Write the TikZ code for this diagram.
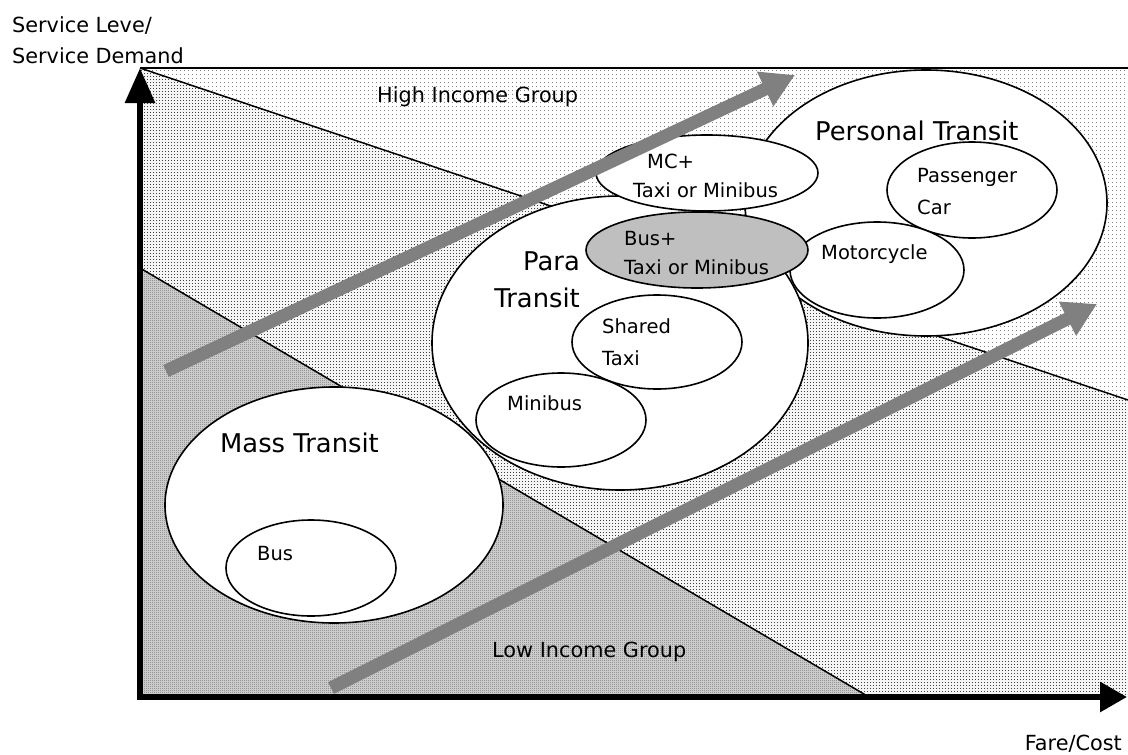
\documentclass[tikz,border=0pt]{standalone}
\usepackage{fontspec}
\setmainfont{DejaVu Sans}
\usetikzlibrary{arrows.meta,shapes.geometric,patterns.meta}

\tikzdeclarepattern{name=sparsedots, type=uncolored,
  bounding box={(0pt,0pt) and (4pt,4pt)}, tile size={(4pt,4pt)},
  code={\pgfpathrectangle{\pgfpointorigin}{\pgfpoint{1pt}{1pt}}\pgfusepath{fill}}}
\tikzdeclarepattern{name=middots, type=uncolored,
  bounding box={(0pt,0pt) and (3pt,3pt)}, tile size={(3pt,3pt)},
  code={\pgfpathrectangle{\pgfpointorigin}{\pgfpoint{1.2pt}{1.2pt}}\pgfusepath{fill}}}
\tikzdeclarepattern{name=densedots, type=uncolored,
  bounding box={(0pt,0pt) and (2pt,2pt)}, tile size={(2pt,2pt)},
  code={\pgfpathrectangle{\pgfpointorigin}{\pgfpoint{1pt}{1pt}}\pgfusepath{fill}}}

\begin{document}
\begin{tikzpicture}[x=1pt, y=-1pt]
	\tikzstyle{bubble} = [draw, ellipse, line width=1.6pt, fill=white, inner sep=0pt]
	\tikzstyle{smalltxt} = [inner sep=0pt, anchor=base west, align=left, font=\fontsize{19.5}{29}\selectfont]
	\tikzstyle{midtxt} = [inner sep=0pt, anchor=base west, align=left, font=\fontsize{20.8}{31}\selectfont]
	\tikzstyle{bigtxt} = [inner sep=0pt, anchor=base west, align=left, font=\fontsize{25.8}{37}\selectfont]
	\tikzstyle{trend} = [draw=gray, line width=13pt, -{Triangle[length=33pt, width=36pt]}]
	\tikzstyle{axis} = [draw=black, line width=6pt]
	\tikzstyle{border} = [draw=black, line width=1.5pt]

	\useasboundingbox (0,0) rectangle (1128,755);

	% plot area
	\coordinate (o) at (140,697);
	\coordinate (tl) at (140,68);
	\coordinate (tr) at (1128,68);
	\coordinate (rh) at (1128,400);
	\coordinate (br) at (1128,697);
	\coordinate (lb) at (869,697);
	\coordinate (ll) at (140,268);
	\coordinate (xtip) at (1127,697);

	% income bands
	\fill[white, postaction={pattern=sparsedots, pattern color=gray}] (tl) -- (tr) -- (rh) -- cycle;
	\fill[gray!8, postaction={pattern=middots, pattern color=black!75}] (tl) -- (rh) -- (br) -- (lb) -- (ll) -- cycle;
	\fill[gray!40, postaction={pattern=densedots, pattern color=black!70}] (ll) -- (lb) -- (o) -- cycle;
	\draw[border] (tl) -- (tr);
	\draw[border] (tl) -- (rh);
	\draw[border] (ll) -- (lb);

	% transit groups
	\path
	node[bubble, minimum width=362, minimum height=266] (personal) at (926,203) {}
	node[bubble, minimum width=170, minimum height=96] (car) at (972,190) {}
	node[bubble, minimum width=174, minimum height=96] (moto) at (877,270) {}
	node[bubble, minimum width=376, minimum height=294] (para) at (620,343) {}
	node[bubble, minimum width=170, minimum height=94] (shared) at (657,342) {}
	node[bubble, minimum width=170, minimum height=94] (mini) at (561,420) {}
	node[bubble, minimum width=222, minimum height=76] (mcplus) at (707,173) {}
	node[bubble, minimum width=222, minimum height=76, fill=gray!50] (busplus) at (697,250) {}
	node[bubble, minimum width=338, minimum height=236] (mass) at (334,505) {}
	node[bubble, minimum width=170, minimum height=96] (bus) at (311,568) {}
	;

	% trends
	\coordinate (hi0) at (166,371);
	\coordinate (hi1) at (795,75);
	\coordinate (lo0) at (331,688);
	\coordinate (lo1) at (1097,304);
	\draw[trend] (hi0) -- (hi1);
	\draw[trend] (lo0) -- (lo1);

	% axes
	\draw[axis, -{Triangle[length=35pt, width=29pt]}] ([yshift=3pt]o) -- (tl);
	\draw[axis, -{Triangle[length=27pt, width=29pt]}] ([xshift=-3pt]o) -- (xtip);

	% texts (base = last line)
	\path
	node[midtxt] (ylab) at (12,63) {Service Leve/\\Service Demand}
	node[midtxt, anchor=base east] (xlab) at (1122,750) {Fare/Cost}
	node[midtxt] (high) at (377,102) {High Income Group}
	node[midtxt] (low) at (492,657) {Low Income Group}
	node[bigtxt] (personaltxt) at (815,140) {Personal Transit}
	node[smalltxt, font=\fontsize{19.5}{32}\selectfont] (cartxt) at (917,214) {Passenger\\Car}
	node[smalltxt] (mototxt) at (821,259) {Motorcycle}
	node[smalltxt] (mcplustxt) at (633,197) {\hspace*{14pt}MC+\\Taxi or Minibus}
	node[smalltxt] (busplustxt) at (624,274) {Bus+\\Taxi or Minibus}
	node[bigtxt, align=right, anchor=base east] (paratxt) at (580,307) {Para\\Transit}
	node[smalltxt, font=\fontsize{19.5}{32}\selectfont] (sharedtxt) at (602,365) {Shared\\Taxi}
	node[smalltxt] (minitxt) at (507,410) {Minibus}
	node[bigtxt] (masstxt) at (220,452) {Mass Transit}
	node[smalltxt] (bustxt) at (257,560) {Bus}
	;
\end{tikzpicture}
\end{document}
